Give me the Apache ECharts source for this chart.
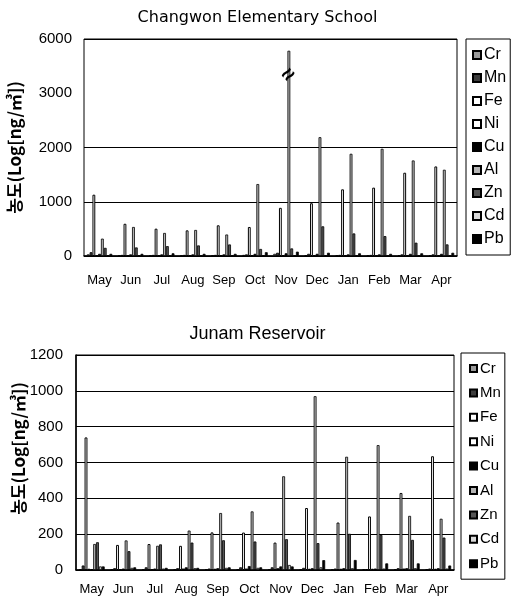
<!DOCTYPE html>
<html><head><meta charset="utf-8">
<script src="https://cdn.jsdelivr.net/npm/echarts@6/dist/echarts.min.js"></script>
<style>html,body{margin:0;padding:0;background:#fff}#c{width:515px;height:599px}</style>
</head><body><div id="c"></div>
<script>
// ---- data ----
const months = ['May','Jun','Jul','Aug','Sep','Oct','Nov','Dec','Jan','Feb','Mar','Apr'];
const elements = ['Cr','Mn','Fe','Ni','Cu','Al','Zn','Cd','Pb'];
const topTicks = [0, 1000, 2000, 3000, 6000];
const bottomTicks = [0, 200, 400, 600, 800, 1000, 1200];

// Changwon Elementary School
const cwCr = [30, 10, 10, 10, 10, 20, 40, 15, 10, 10, 15, 10];
const cwMn = [70, 20, 20, 20, 20, 30, 60, 40, 20, 20, 30, 30];
const cwFe = [1130, 594, 504, 473, 566, 535, 888, 973, 1229, 1260, 1535, 1651];
const cwNi = [10, 8, 8, 8, 8, 10, 10, 10, 8, 8, 10, 10];
const cwCu = [40, 30, 30, 30, 30, 40, 50, 40, 30, 30, 40, 40];
const cwAl = [320, 535, 425, 480, 396, 1326, 5350, 2190, 1884, 1976, 1761, 1590];
const cwZn = [150, 158, 182, 195, 213, 130, 140, 547, 416, 367, 245, 214];
const cwCd = [15, 10, 10, 10, 10, 15, 15, 10, 10, 10, 10, 10];
const cwPb = [40, 40, 50, 40, 40, 70, 80, 60, 50, 40, 50, 60];

// Junam Reservoir
const jnCr = [5, 3, 3, 3, 3, 5, 5, 5, 5, 5, 5, 5];
const jnMn = [25, 10, 15, 10, 8, 15, 15, 12, 8, 5, 10, 8];
const jnFe = [740, 140, 145, 135, 210, 209, 153, 346, 265, 299, 430, 635];
const jnNi = [5, 3, 3, 8, 5, 8, 10, 5, 5, 5, 8, 5];
const jnCu = [5, 8, 8, 15, 10, 22, 20, 10, 10, 8, 10, 10];
const jnAl = [145, 165, 135, 220, 318, 327, 523, 970, 632, 697, 302, 286];
const jnZn = [155, 105, 143, 153, 166, 159, 172, 150, 202, 196, 168, 181];
const jnCd = [20, 12, 8, 10, 12, 12, 28, 15, 10, 8, 10, 8];
const jnPb = [20, 15, 12, 12, 15, 15, 20, 55, 56, 37, 37, 25];

const cwData = [cwCr, cwMn, cwFe, cwNi, cwCu, cwAl, cwZn, cwCd, cwPb];
const jnData = [jnCr, jnMn, jnFe, jnNi, jnCu, jnAl, jnZn, jnCd, jnPb];

// ---- styles ----
const fills = ['#9a9a9a', '#3c3c3c', '#ffffff', '#ffffff', '#000000', '#b4b4b4', '#555555', '#d9d9d9', '#000000'];
const borders = [0.8, 0.8, 1, 1.4, 0.8, 0.8, 0.8, 0.8, 0.8];
const FONT = '"Liberation Sans", Arial, sans-serif';
const yName = '농도(Log[ng/㎥])';

function makeSeries(dataArr, gi) {
  return elements.map((el, i) => {
    const s = {
      name: el, type: 'bar', xAxisIndex: gi, yAxisIndex: gi,
      data: dataArr[i],
      barCategoryGap: '18%', barGap: '0%',
      itemStyle: { color: fills[i], borderColor: '#000', borderWidth: borders[i] },
      emphasis: { disabled: true },
      animation: false
    };
    if (gi === 0 && el === 'Al') {
      s.markPoint = {
        symbol: 'circle', symbolSize: 1,
        itemStyle: { color: 'rgba(0,0,0,0)' },
        label: { show: true, formatter: '≈', fontSize: 22, fontWeight: 'bold', color: '#000', rotate: 45, position: 'inside' },
        data: [{ coord: ['Nov', 4000] }]
      };
    }
    return s;
  });
}

const chart = echarts.init(document.getElementById('c'), null, { renderer: 'canvas' });
chart.setOption({
  backgroundColor: '#fff',
  animation: false,
  title: [
    { text: 'Changwon Elementary School', left: 'center', top: 5,
      textStyle: { fontFamily: 'DejaVu Sans, sans-serif', fontSize: 16, fontWeight: 'normal', color: '#000' } },
    { text: 'Junam Reservoir', left: 'center', top: 320,
      textStyle: { fontFamily: FONT, fontSize: 18, fontWeight: 'normal', color: '#000' } }
  ],
  legend: [
    { data: elements, orient: 'vertical', left: 466, top: 39, icon: 'rect',
      borderColor: '#000', borderWidth: 1, padding: [8, 4, 8, 6],
      itemWidth: 8, itemHeight: 8, itemGap: 7,
      textStyle: { fontFamily: FONT, fontSize: 16, color: '#000', padding: [0, 0, 0, -2] } },
    { data: elements, orient: 'vertical', left: 461, top: 353, icon: 'rect',
      borderColor: '#000', borderWidth: 1, padding: [8, 4, 8, 8],
      itemWidth: 7, itemHeight: 7, itemGap: 9.4,
      textStyle: { fontFamily: FONT, fontSize: 15, color: '#000', padding: [0, 0, 0, -2] } }
  ],
  grid: [
    { left: 84, right: 58, top: 39, bottom: 343, show: true, borderColor: '#000', borderWidth: 1,
      backgroundColor: 'transparent', containLabel: false, outerBoundsMode: 'none' },
    { left: 76, right: 61, top: 355, bottom: 29, show: true, borderColor: '#000', borderWidth: 1,
      backgroundColor: 'transparent', containLabel: false, outerBoundsMode: 'none' }
  ],
  xAxis: [
    { type: 'category', gridIndex: 0, data: months,
      axisLine: { lineStyle: { color: '#000', width: 1.5 } }, axisTick: { show: false },
      axisLabel: { color: '#000', fontFamily: FONT, fontSize: 13, margin: 18, interval: 0 } },
    { type: 'category', gridIndex: 1, data: months,
      axisLine: { lineStyle: { color: '#000', width: 1.5 } }, axisTick: { show: false },
      axisLabel: { color: '#000', fontFamily: FONT, fontSize: 13, margin: 13, interval: 0 } }
  ],
  yAxis: [
    { type: 'value', gridIndex: 0, min: topTicks[0], max: topTicks[topTicks.length - 1], interval: 1000,
      breaks: [{ start: topTicks[3], end: topTicks[4], gap: 1000 }],
      breakArea: { show: false },
      name: yName, nameLocation: 'middle', nameRotate: 90, nameGap: 61, nameMoveOverlap: false,
      nameTextStyle: { fontFamily: '"Noto Sans CJK KR", sans-serif', fontSize: 17, fontWeight: 'bold', color: '#000' },
      axisLine: { show: false }, axisTick: { show: false },
      splitLine: { show: true, lineStyle: { color: '#000', width: 1 } },
      axisLabel: { color: '#000', fontFamily: FONT, fontSize: 15, margin: 12,
        formatter: v => topTicks.indexOf(v) >= 0 ? String(v) : '' } },
    { type: 'value', gridIndex: 1, min: bottomTicks[0], max: bottomTicks[bottomTicks.length - 1], interval: 200,
      name: yName, nameLocation: 'middle', nameRotate: 90, nameGap: 49, nameMoveOverlap: false,
      nameTextStyle: { fontFamily: '"Noto Sans CJK KR", sans-serif', fontSize: 17, fontWeight: 'bold', color: '#000', padding: [0, 0, 0, 28] },
      axisLine: { show: true, lineStyle: { color: '#000', width: 1.5 } }, axisTick: { show: false },
      splitLine: { show: true, lineStyle: { color: '#000', width: 1 } },
      axisLabel: { color: '#000', fontFamily: FONT, fontSize: 15, margin: 13,
        formatter: v => String(v) } }
  ],
  series: makeSeries(cwData, 0).concat(makeSeries(jnData, 1))
});
</script>
</body></html>
